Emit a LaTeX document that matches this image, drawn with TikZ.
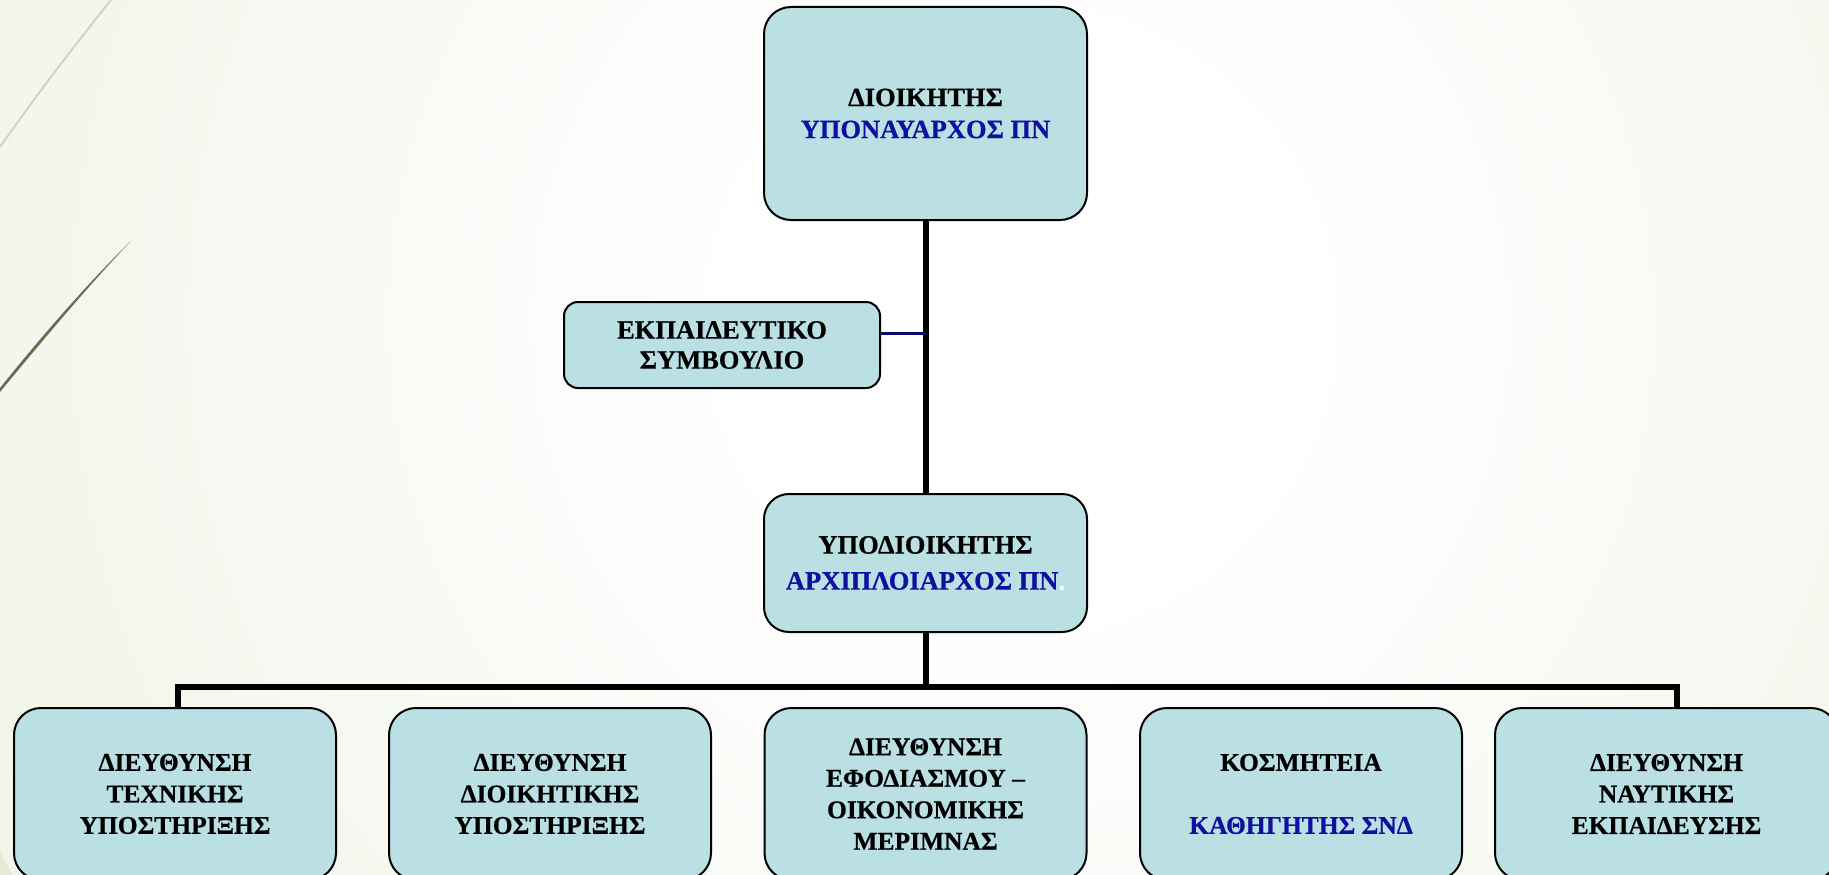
\documentclass[tikz,border=0pt]{standalone}
\usepackage{fontspec}
\setmainfont{Liberation Serif}[BoldFeatures={FakeBold=0.6}]
\definecolor{bgc}{RGB}{228,234,212}
\definecolor{boxc}{RGB}{186,224,228}
\definecolor{txtblue}{RGB}{16,16,160}
\definecolor{navyline}{RGB}{10,10,110}
\definecolor{faint}{RGB}{208,212,192}
\definecolor{twig}{RGB}{112,102,82}
\pgfdeclareradialshading{bgshade}{\pgfpoint{0bp}{0bp}}{color(0bp)=(white); color(6bp)=(white); color(42bp)=(bgc); color(50bp)=(bgc)}
\tikzset{
  orgbox/.style={draw=black, line width=2pt, fill=boxc, rounded corners=27pt, align=center, inner sep=0pt,
    font=\bfseries\fontsize{26.5}{32}\selectfont},
  lowbox/.style={orgbox, minimum width=322pt, minimum height=172pt, font=\bfseries\fontsize{25.5}{31.5}\selectfont},
  trunk/.style={line width=6pt, black},
  sideline/.style={line width=3pt, navyline}
}
\begin{document}
\begin{tikzpicture}[x=1pt,y=-1pt]
\useasboundingbox (0,0) rectangle (1829,875);
\clip (0,0) rectangle (1829,875);
\fill[bgc] (0,0) rectangle (1829,875);
\shade[shading=bgshade] (1020,320) circle (1150pt);
% decorative strokes
\draw[faint, line width=2pt] (0,147) .. controls (40,90) and (75,45) .. (111,0);
\fill[twig] (0,388) .. controls (45,332) and (90,281) .. (130,242) .. controls (91,283) and (47,335) .. (0,392) -- cycle;
% nodes
\node[orgbox, minimum width=323pt, minimum height=213pt] (top) at (925.5,113.5)
  {ΔΙΟΙΚΗΤΗΣ\\\textcolor{txtblue}{ΥΠΟΝΑΥΑΡΧΟΣ ΠΝ}};
\node[orgbox, rounded corners=14pt, minimum width=316pt, minimum height=86pt, font=\bfseries\fontsize{26.5}{30}\selectfont] (council) at (722,345)
  {ΕΚΠΑΙΔΕΥΤΙΚΟ\\ΣΥΜΒΟΥΛΙΟ};
\node[orgbox, rounded corners=25pt, minimum width=323pt, minimum height=138pt, font=\bfseries\fontsize{26.5}{36}\selectfont] (mid) at (925.5,563)
  {ΥΠΟΔΙΟΙΚΗΤΗΣ\\\textcolor{txtblue}{ΑΡΧΙΠΛΟΙΑΡΧΟΣ ΠΝ}\textcolor{white}{.}};
\node[lowbox] (b1) at (175,794) {ΔΙΕΥΘΥΝΣΗ\\ΤΕΧΝΙΚΗΣ\\ΥΠΟΣΤΗΡΙΞΗΣ};
\node[lowbox] (b2) at (550,794) {ΔΙΕΥΘΥΝΣΗ\\ΔΙΟΙΚΗΤΙΚΗΣ\\ΥΠΟΣΤΗΡΙΞΗΣ};
\node[lowbox] (b3) at (925.5,794) {ΔΙΕΥΘΥΝΣΗ\\ΕΦΟΔΙΑΣΜΟΥ –\\ΟΙΚΟΝΟΜΙΚΗΣ\\ΜΕΡΙΜΝΑΣ};
\node[lowbox] (b4) at (1301,794) {ΚΟΣΜΗΤΕΙΑ\\[31.5pt]\textcolor{txtblue}{ΚΑΘΗΓΗΤΗΣ ΣΝΔ}};
\node[lowbox, minimum width=343pt] (b5) at (1666.5,794) {ΔΙΕΥΘΥΝΣΗ\\ΝΑΥΤΙΚΗΣ\\ΕΚΠΑΙΔΕΥΣΗΣ};
% connectors
\coordinate (busL) at (178,687);
\coordinate (busR) at (1677,687);
\draw[trunk] (top.south) -- (mid.north);
\draw[trunk] (mid.south) -- (mid.south |- busL);
\draw[trunk, line join=miter] (b1.north -| busL) -- (busL) -- (busR) -- (b5.north -| busR);
\draw[sideline] ([yshift=12pt]council.east) -- ([yshift=12pt]council.east -| top.south);
\end{tikzpicture}
\end{document}
